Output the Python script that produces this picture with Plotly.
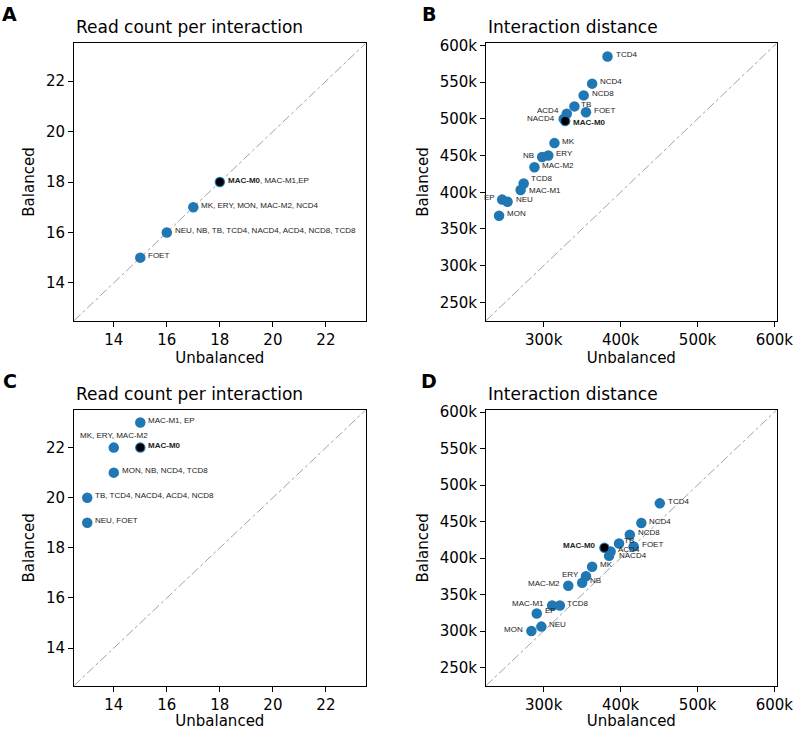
import plotly.graph_objects as go

# ---------------- data ----------------
# Panel A: read count per interaction (first comparison)
a_unbal = [18, 17, 16, 15]
a_bal = [18, 17, 16, 15]
a_text = ["<b>MAC-M0</b>, MAC-M1,EP", "MK, ERY, MON, MAC-M2, NCD4",
          "NEU, NB, TB, TCD4, NACD4, ACD4, NCD8, TCD8", "FOET"]

# Panel C: read count per interaction (second comparison)
c_unbal = [15, 14, 15, 14, 13, 13]
c_bal = [23, 22, 22, 21, 20, 19]
c_text = ["MAC-M1, EP", "MK, ERY, MAC-M2", "<b>MAC-M0</b>", "MON, NB, NCD4, TCD8",
          "TB, TCD4, NACD4, ACD4, NCD8", "NEU, FOET"]

# Panel B: interaction distance (first comparison)
b_names = ["TCD4", "NCD4", "NCD8", "TB", "FOET", "ACD4", "NACD4", "MAC-M0", "MK",
           "ERY", "NB", "MAC-M2", "TCD8", "MAC-M1", "EP", "NEU", "MON"]
b_unbal = [383000, 363000, 352000, 340000, 355000, 330000, 326000, 328000, 314000,
           306000, 298000, 288000, 274000, 270000, 246000, 253000, 242000]
b_bal = [585000, 548000, 532000, 517000, 509000, 507000, 500000, 497000, 467000,
         450000, 448000, 434000, 412000, 403000, 390000, 387000, 368000]

# Panel D: interaction distance (second comparison)
d_names = ["TCD4", "NCD4", "NCD8", "TB", "FOET", "ACD4", "NACD4", "MAC-M0", "MK",
           "ERY", "NB", "MAC-M2", "TCD8", "MAC-M1", "EP", "NEU", "MON"]
d_unbal = [451000, 427000, 412000, 398000, 417000, 387000, 385000, 379000, 363000,
           355000, 350000, 332000, 321000, 311000, 291000, 297000, 284000]
d_bal = [475000, 448000, 432000, 420000, 416000, 409000, 403000, 414000, 388000,
         375000, 366000, 362000, 335000, 335000, 324000, 306000, 300000]

count_ticks = [14, 16, 18, 20, 22]
dist_xticks = [300000, 400000, 500000, 600000]
dist_xtext = ["300k", "400k", "500k", "600k"]
dist_yticks = [250000, 300000, 350000, 400000, 450000, 500000, 550000, 600000]
dist_ytext = ["250k", "300k", "350k", "400k", "450k", "500k", "550k", "600k"]

highlight = "MAC-M0"

# ---------------- styling / layout ----------------
W, H = 793, 730
BLUE = "#1f77b4"
FONT = "DejaVu Sans"
LFONT = "Liberation Sans"

count_range = [12.5, 23.5]
dist_range = [225000, 603000]

colx = [(74, 365.7), (486, 776.7)]
rowy = [(43.3, 320.7), (410, 685.7)]


def xdom(c):
    return [colx[c][0] / W, colx[c][1] / W]


def ydom(r):
    return [1 - rowy[r][1] / H, 1 - rowy[r][0] / H]


# label placement: side and (dx, dy) pixel adjustments (dy positive = up)
b_side = {"TCD4": "r", "NCD4": "r", "NCD8": "r", "TB": "r", "FOET": "r", "ACD4": "l",
          "NACD4": "l", "MAC-M0": "r", "MK": "r", "ERY": "r", "NB": "l", "MAC-M2": "r",
          "TCD8": "r", "MAC-M1": "r", "EP": "l", "NEU": "r", "MON": "r"}
b_adj = {"TB": (-1, 0), "TCD8": (-1, 3), "ACD4": (0, 1), "NACD4": (-1, -1.5),
         "MAC-M0": (0, -3.5), "MAC-M1": (0, -2), "EP": (1, 0)}
d_side = {"TCD4": "r", "NCD4": "r", "NCD8": "r", "TB": "r", "FOET": "r", "ACD4": "r",
          "NACD4": "r", "MAC-M0": "l", "MK": "r", "ERY": "l", "NB": "r", "MAC-M2": "l",
          "TCD8": "r", "MAC-M1": "l", "EP": "r", "NEU": "r", "MON": "l"}
d_adj = {"TB": (-3, 1), "ACD4": (-1, 0), "NACD4": (2, -2), "TCD8": (-1, 0),
         "EP": (0, 1), "ERY": (1, 0)}

fig = go.Figure()

panels = [
    ("x", "y", a_unbal, a_bal, count_range),
    ("x2", "y2", b_unbal, b_bal, dist_range),
    ("x3", "y3", c_unbal, c_bal, count_range),
    ("x4", "y4", d_unbal, d_bal, dist_range),
]

for xa, ya, xs, ys, rng in panels:
    fig.add_trace(go.Scatter(x=rng, y=rng, xaxis=xa, yaxis=ya, mode="lines",
                             line=dict(color="#8a8a8a", width=0.8, dash="dashdot"),
                             hoverinfo="skip", showlegend=False))
    fig.add_trace(go.Scatter(x=xs, y=ys, xaxis=xa, yaxis=ya, mode="markers",
                             marker=dict(size=10.5, color=BLUE, line=dict(width=0)),
                             showlegend=False))

# highlighted points (MAC-M0)
hl = [
    ("x", "y", [a_unbal[0]], [a_bal[0]]),
    ("x2", "y2", [b_unbal[b_names.index(highlight)]], [b_bal[b_names.index(highlight)]]),
    ("x3", "y3", [c_unbal[2]], [c_bal[2]]),
    ("x4", "y4", [d_unbal[d_names.index(highlight)]], [d_bal[d_names.index(highlight)]]),
]
for xa, ya, xs, ys in hl:
    fig.add_trace(go.Scatter(x=xs, y=ys, xaxis=xa, yaxis=ya, mode="markers",
                             marker=dict(size=8, color="black", line=dict(width=0)),
                             showlegend=False))

annotations = []
lfont = dict(family=LFONT, size=8, color="#222")


def lab(xref, yref, x, y, text, side, adj=(0, 0)):
    dx, dy = adj
    if side == "r":
        annotations.append(dict(x=x, y=y, xref=xref, yref=yref, text=text, showarrow=False,
                                xanchor="left", yanchor="middle", xshift=6 + dx,
                                yshift=2 + dy, font=lfont))
    elif side == "l":
        annotations.append(dict(x=x, y=y, xref=xref, yref=yref, text=text, showarrow=False,
                                xanchor="right", yanchor="middle", xshift=-6 + dx,
                                yshift=2 + dy, font=lfont))
    else:
        annotations.append(dict(x=x, y=y, xref=xref, yref=yref, text=text, showarrow=False,
                                xanchor="center", yanchor="middle", xshift=dx,
                                yshift=12 + dy, font=lfont))


for x, y, t in zip(a_unbal, a_bal, a_text):
    lab("x", "y", x, y, t, "r")
for i, (x, y, t) in enumerate(zip(c_unbal, c_bal, c_text)):
    lab("x3", "y3", x, y, t, "t" if i == 1 else "r")
for x, y, n in zip(b_unbal, b_bal, b_names):
    t = "<b>%s</b>" % n if n == highlight else n
    lab("x2", "y2", x, y, t, b_side[n], b_adj.get(n, (0, 0)))
for x, y, n in zip(d_unbal, d_bal, d_names):
    t = "<b>%s</b>" % n if n == highlight else n
    lab("x4", "y4", x, y, t, d_side[n], d_adj.get(n, (0, 0)))

titles = ["Read count per interaction", "Interaction distance",
          "Read count per interaction", "Interaction distance"]
letters = ["A", "B", "C", "D"]
for i in range(4):
    r, c = divmod(i, 2)
    annotations.append(dict(x=(colx[c][0] + 0) / W, y=1 - (rowy[r][0] - 16.5) / H,
                            xref="paper", yref="paper", text=titles[i], showarrow=False,
                            xanchor="left", yanchor="middle",
                            font=dict(family=FONT, size=17, color="black")))
    annotations.append(dict(x=(9.5 + c * 419) / W, y=1 - (14 + r * 366.7) / H,
                            xref="paper", yref="paper", text="<b>%s</b>" % letters[i],
                            showarrow=False, xanchor="center", yanchor="middle",
                            font=dict(family=FONT, size=19, color="black")))


def axis(dom, rng, anchor, tv, tt, title, standoff):
    return dict(domain=dom, range=rng, anchor=anchor, showline=True, mirror=True,
                linecolor="black", linewidth=1, ticks="outside", ticklen=5, tickwidth=1,
                tickcolor="black", showgrid=False, zeroline=False, tickvals=tv,
                ticktext=tt, tickfont=dict(family=FONT, size=15, color="black"),
                ticklabeloverflow="allow",
                title=dict(text=title, font=dict(family=FONT, size=15, color="black"),
                           standoff=standoff), automargin=False)


fig.update_layout(
    width=W, height=H, margin=dict(l=0, r=0, t=0, b=0),
    paper_bgcolor="white", plot_bgcolor="white", template="none",
    font=dict(family=FONT, color="black"),
    xaxis=axis(xdom(0), count_range, "y", count_ticks, [str(v) for v in count_ticks], "Unbalanced", 4),
    yaxis=axis(ydom(0), count_range, "x", count_ticks, [str(v) for v in count_ticks], "Balanced", 7),
    xaxis2=axis(xdom(1), dist_range, "y2", dist_xticks, dist_xtext, "Unbalanced", 4),
    yaxis2=axis(ydom(0), dist_range, "x2", dist_yticks, dist_ytext, "Balanced", 7),
    xaxis3=axis(xdom(0), count_range, "y3", count_ticks, [str(v) for v in count_ticks], "Unbalanced", 4),
    yaxis3=axis(ydom(1), count_range, "x3", count_ticks, [str(v) for v in count_ticks], "Balanced", 7),
    xaxis4=axis(xdom(1), dist_range, "y4", dist_xticks, dist_xtext, "Unbalanced", 4),
    yaxis4=axis(ydom(1), dist_range, "x4", dist_yticks, dist_ytext, "Balanced", 7),
    annotations=annotations,
    showlegend=False,
)

fig.write_html("out.html", config={"displayModeBar": False},
               post_script="document.body.style.margin='0';document.body.style.overflow='hidden';")
